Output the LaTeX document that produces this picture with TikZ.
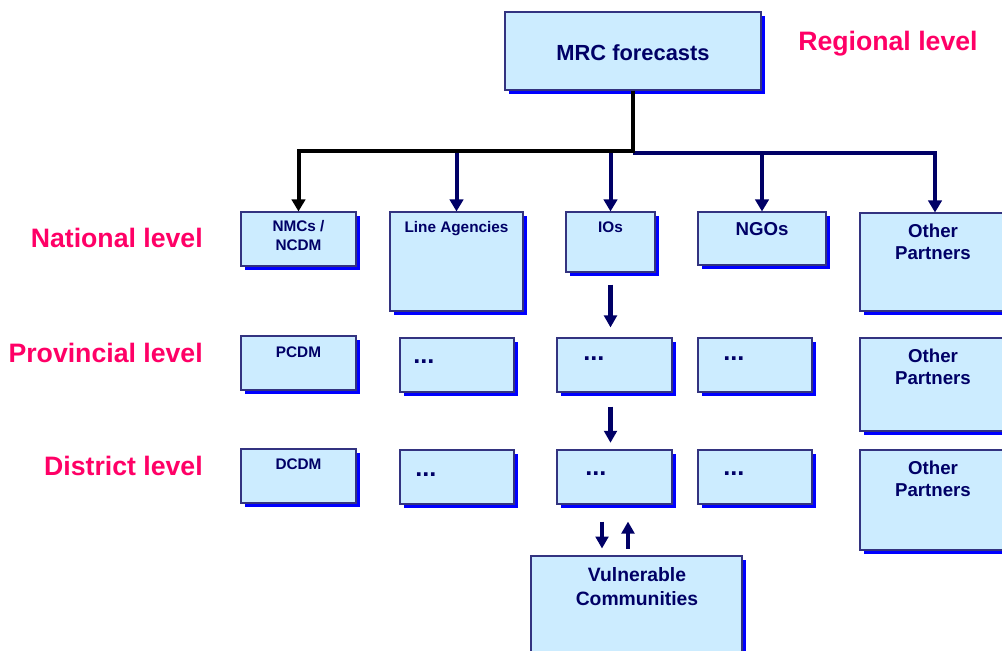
\documentclass[tikz,border=0pt]{standalone}
\usepackage{fontspec}
\setmainfont{Liberation Sans}
\usetikzlibrary{arrows.meta,shadows,fit,calc}
\definecolor{boxfill}{HTML}{CCECFF}
\definecolor{boxline}{HTML}{333380}
\definecolor{navy}{HTML}{000066}
\definecolor{lvl}{HTML}{FF0066}
\definecolor{shad}{HTML}{0000FF}
\begin{document}
\begin{tikzpicture}[x=0.75pt,y=-0.75pt,
 box/.style={draw=boxline, line width=0.8pt, fill=boxfill, inner sep=0pt,
   general shadow={fill=shad, shadow xshift=2.8pt, shadow yshift=-2.8pt}},
 txt/.style={text=navy, font=\bfseries\fontsize{11.5}{14.25}\selectfont, align=center, inner sep=0pt, anchor=north},
 big/.style={txt, font=\bfseries\fontsize{14}{16.5}\selectfont},
 lvltxt/.style={text=lvl, font=\bfseries\fontsize{20}{24}\selectfont, inner sep=0pt, anchor=north east},
 dots/.style={text=navy, font=\bfseries\fontsize{19}{22}\selectfont, inner sep=0pt, anchor=base west},
 link/.style={line width=3pt, -{Triangle[length=9pt,width=10pt]}},
 small/.style={line width=3.5pt, navy, -{Triangle[length=9pt,width=9.5pt]}}
]
\useasboundingbox (0,0) rectangle (1002,650);

% boxes
\node[box, fit={(505,12) (761,90)}] (MRC) {};
\node[box, fit={(241,212) (356,266)}] (NMC) {};
\node[box, fit={(390,212) (523,311)}] (LA) {};
\node[box, fit={(566,212) (655,272)}] (IO) {};
\node[box, fit={(698,212) (826,265)}] (NGO) {};
\node[box, fit={(860,213) (1010,311)}] (OP1) {};
\node[box, fit={(241,336) (356,390)}] (PCDM) {};
\node[box, fit={(400,338) (514,392)}] (P2) {};
\node[box, fit={(557,338) (672,392)}] (P3) {};
\node[box, fit={(698,338) (812,392)}] (P4) {};
\node[box, fit={(860,338) (1010,431)}] (OP2) {};
\node[box, fit={(241,449) (356,503)}] (DCDM) {};
\node[box, fit={(400,450) (514,504)}] (D2) {};
\node[box, fit={(557,450) (672,504)}] (D3) {};
\node[box, fit={(698,450) (812,504)}] (D4) {};
\node[box, fit={(860,450) (1010,550)}] (OP3) {};
\node[box, fit={(531,556) (742,670)}] (VC) {};

% texts
\node[txt, font=\bfseries\fontsize{16.4}{19}\selectfont] (tMRC) at (633,44) {MRC forecasts};
\node[txt] (tNMC) at (298.5,220.5) {NMCs /\\NCDM};
\node[txt] (tLA) at (456.5,221.5) {Line Agencies};
\node[txt] (tIO) at (610.5,221.5) {IOs};
\node[big] (tNGO) at (762,222) {NGOs};
\node[big] (tOP1) at (933,224) {Other\\Partners};
\node[txt] (tPCDM) at (298.5,346.5) {PCDM};
\node[txt] (tDCDM) at (298.5,458.5) {DCDM};
\node[big] (tOP2) at (933,349) {Other\\Partners};
\node[big] (tOP3) at (933,461) {Other\\Partners};
\node[big, font=\bfseries\fontsize{14.5}{18}\selectfont] (tVC) at (637,567) {Vulnerable\\Communities};
\node[dots] (dP2) at (413,363) {...};
\node[dots] (dP3) at (583,360) {...};
\node[dots] (dP4) at (723,360) {...};
\node[dots] (dD2) at (415,476) {...};
\node[dots] (dD3) at (585,475) {...};
\node[dots] (dD4) at (723,475) {...};

% level labels
\node[lvltxt, anchor=north west] (lReg) at (798,31) {Regional level};
\node[lvltxt] (lNat) at (203,227.5) {National level};
\node[lvltxt] (lProv) at (203,342.5) {Provincial level};
\node[lvltxt] (lDist) at (203,455.5) {District level};

% connectors
\coordinate (bus) at (633,151);
\coordinate (bus2) at (633,153);
\draw[link, navy] (bus -| LA.north) -- (LA.north);
\draw[link, navy] (bus -| IO.north) -- (IO.north);
\draw[link, navy] (bus2 -| NGO.north) -- (NGO.north);
\draw[link, navy] (bus2) -| (OP1.north);
\draw[link, black] (MRC.south) -- (bus) -| (NMC.north);

\draw[small, shorten <=9pt, shorten >=7.5pt] (IO.south) -- (IO.south |- P3.north);
\draw[small, shorten <=10.5pt, shorten >=5pt] (IO.south |- P3.south) -- (IO.south |- D3.north);
\coordinate (dn1) at ($(D3.south)+(-12.5,17)$);
\coordinate (dn2) at ($(D3.south)+(-12.5,44)$);
\coordinate (up1) at ($(D3.south)+(13.5,44)$);
\coordinate (up2) at ($(D3.south)+(13.5,17)$);
\draw[small] (dn1) -- (dn2);
\draw[small] (up1) -- (up2);
\end{tikzpicture}
\end{document}
